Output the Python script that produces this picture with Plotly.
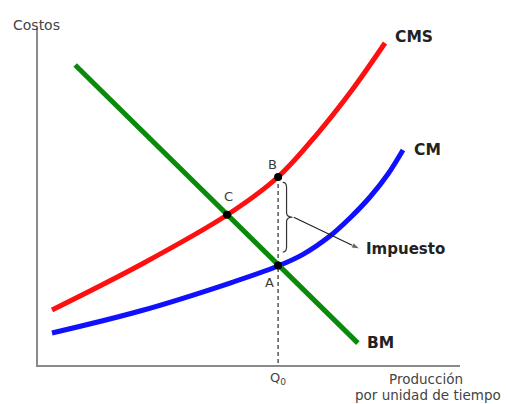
import plotly.graph_objects as go

# ---- data (arbitrary units 0-100) ----
cms_x = [3.32, 24.17, 44.79, 56.87, 66.35, 74.41, 82.23]
cms_y = [16.32, 29.67, 44.51, 55.79, 68.84, 81.60, 95.55]

cm_x = [3.32, 24.17, 45.50, 56.87, 62.80, 69.19, 73.93, 78.67, 82.94, 86.49]
cm_y = [9.50, 16.02, 24.33, 29.38, 32.84, 38.28, 43.62, 49.85, 56.68, 63.80]

bm_x = [8.8, 75.8]
bm_y = [89.0, 6.5]

q0 = 56.9
pt_labels = ["C", "B", "A"]
pt_x = [44.8, 56.9, 56.9]
pt_y = [44.6, 55.8, 29.5]

tax_label = "Impuesto"
tax_arrow_head = (76.3, 34.4)

font = "DejaVu Sans, Verdana, sans-serif"

fig = go.Figure()
fig.add_trace(go.Scatter(x=cms_x, y=cms_y, mode="lines", line=dict(color="#ff1010", width=5, shape="spline"), hoverinfo="skip"))
fig.add_trace(go.Scatter(x=cm_x, y=cm_y, mode="lines", line=dict(color="#1010ff", width=5, shape="spline"), hoverinfo="skip"))
fig.add_trace(go.Scatter(x=bm_x, y=bm_y, mode="lines", line=dict(color="#0a8a0a", width=5), hoverinfo="skip"))
# dashed line from B down to axis
fig.add_trace(go.Scatter(x=[q0, q0], y=[pt_y[1], 0], mode="lines",
                         line=dict(color="#555555", width=1.5, dash="4px,3px"), hoverinfo="skip"))
fig.add_trace(go.Scatter(x=pt_x, y=pt_y, mode="markers", marker=dict(color="black", size=8), hoverinfo="skip"))

# brace between B and A
bx0, bx1, bx2 = q0 + 1.1, q0 + 2.0, q0 + 3.4
top, bot = pt_y[1] - 1.6, pt_y[2] + 4.0
mid = (top + bot) / 2
path = (f"M {bx0},{top} Q {bx1},{top} {bx1},{top-1.5} L {bx1},{mid+1.3} "
        f"Q {bx1},{mid} {bx2},{mid} Q {bx1},{mid} {bx1},{mid-1.3} "
        f"L {bx1},{bot+1.5} Q {bx1},{bot} {bx0},{bot}")
fig.add_shape(type="path", path=path, xref="x", yref="y", line=dict(color="#333333", width=1.2))

# arrow from brace to "Impuesto"
fig.add_trace(go.Scatter(x=[bx2 + 0.3, tax_arrow_head[0]], y=[mid, tax_arrow_head[1]], mode="lines+markers",
                         line=dict(color="#222222", width=1.2),
                         marker=dict(symbol="arrow", angleref="previous", size=[0, 9], color="#222222"),
                         hoverinfo="skip"))

ann = []
# curve labels
for txt, x, y, dx, dy in [("CMS", cms_x[-1], cms_y[-1], 8, 6), ("CM", cm_x[-1], cm_y[-1], 9, 0),
                          ("BM", bm_x[-1], bm_y[-1], 7, 0)]:
    ann.append(dict(x=x, y=y, text=f"<b>{txt}</b>", showarrow=False, xanchor="left", yanchor="middle",
                    xshift=dx, yshift=dy, font=dict(family=font, size=15.5, color="#222222")))
# point labels
for txt, x, y, dx, dy in zip(pt_labels, pt_x, pt_y, [1, -6, -9], [18, 12, -17]):
    ann.append(dict(x=x, y=y, text=txt, showarrow=False, xshift=dx, yshift=dy,
                    font=dict(family=font, size=13, color="#3a3a3a")))
ann.append(dict(x=tax_arrow_head[0], y=tax_arrow_head[1], text=f"<b>{tax_label}</b>", showarrow=False,
                xanchor="left", xshift=4, font=dict(family=font, size=15, color="#222222")))
# axis texts
ann.append(dict(x=0, y=1, xref="paper", yref="paper", text="Costos", showarrow=False, xanchor="center",
                xshift=-2, yshift=13, font=dict(family=font, size=14, color="#444444")))
ann.append(dict(x=q0, y=0, text="Q<sub>0</sub>", showarrow=False, yanchor="middle", yshift=-13,
                font=dict(family=font, size=13, color="#444444")))
ann.append(dict(x=91.9, y=0, text="Producción", showarrow=False, yanchor="middle", yshift=-14,
                font=dict(family=font, size=13.5, color="#444444")))
ann.append(dict(x=92.4, y=0, text="por unidad de tiempo", showarrow=False, yanchor="middle", yshift=-30,
                font=dict(family=font, size=13.5, color="#444444")))

fig.update_layout(
    width=507, height=404, margin=dict(l=38, r=47, t=28, b=39),
    paper_bgcolor="white", plot_bgcolor="white", showlegend=False,
    xaxis=dict(range=[0, 100], showline=True, linecolor="#8a8a8a", linewidth=2, showgrid=False,
               zeroline=False, showticklabels=False, ticks=""),
    yaxis=dict(range=[0, 100], showline=True, linecolor="#8a8a8a", linewidth=2, showgrid=False,
               zeroline=False, showticklabels=False, ticks=""),
    annotations=ann,
)
fig.write_html("out.html", config={"displayModeBar": False},
               post_script="document.body.style.margin='0';document.body.style.overflow='hidden';")
